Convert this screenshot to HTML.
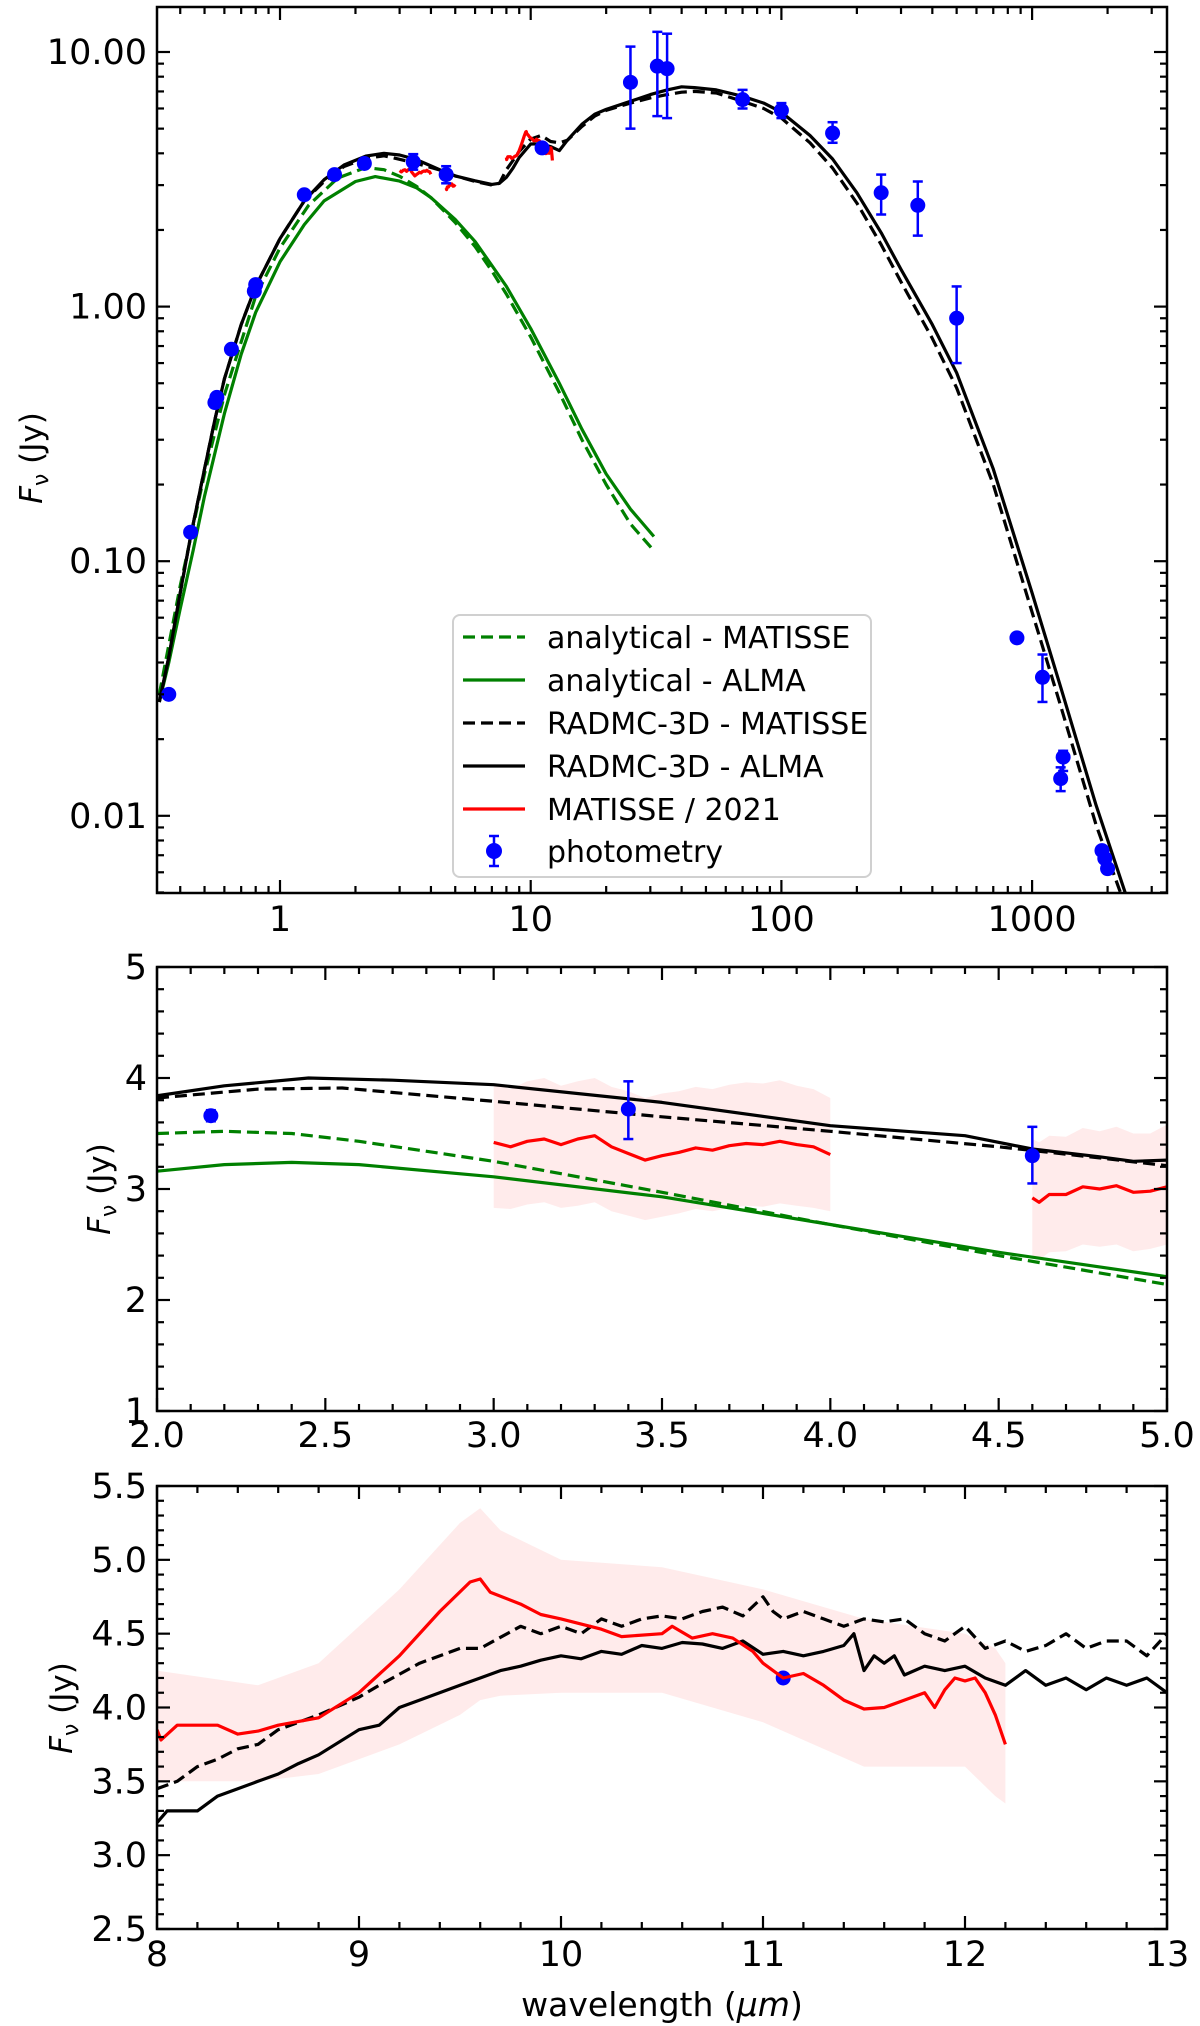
<!DOCTYPE html>
<html><head><meta charset="utf-8"><style>
body{margin:0;background:#fff}
svg{display:block;font-family:"DejaVu Sans","Liberation Sans",sans-serif}
</style></head><body>
<svg id="fig" width="1200" height="2026" viewBox="0 0 1200 2026" xmlns="http://www.w3.org/2000/svg">
<defs>
<clipPath id="c1"><rect x="157" y="7" width="1010" height="886"/></clipPath>
<clipPath id="c2"><rect x="157" y="967" width="1010" height="444"/></clipPath>
<clipPath id="c3"><rect x="157" y="1486" width="1010" height="443"/></clipPath>
</defs>
</svg>
<script>
// ---------- Panel 1 data (wavelength um, flux Jy) ----------
const p1RadAlmaX=[0.33,0.36,0.4,0.44,0.5,0.55,0.6,0.7,0.8,1.0,1.25,1.5,1.8,2.2,2.6,3.0,3.5,4,4.6,5,6,7,7.5,8,8.5,9,10,11,12,13,14,16,18,20,25,30,35,40,45,55,70,85,100,130,160,200,250,300,400,500,700,1000,1300,1800,2350,2800];
const p1RadAlmaY=[0.028,0.042,0.075,0.125,0.23,0.36,0.52,0.85,1.2,1.85,2.6,3.15,3.6,3.9,4.0,3.94,3.78,3.57,3.36,3.26,3.12,3.02,3.05,3.22,3.5,3.85,4.35,4.36,4.25,4.1,4.5,5.2,5.7,5.95,6.4,6.8,7.1,7.3,7.25,7.1,6.7,6.3,5.8,4.7,3.8,2.8,1.95,1.4,0.85,0.55,0.23,0.075,0.032,0.011,0.005,0.003];
const p1RadMatX=[0.33,0.36,0.4,0.44,0.5,0.55,0.6,0.7,0.8,1.0,1.25,1.5,1.8,2.2,2.6,3.0,3.5,4,4.6,5,6,7,7.5,8,8.5,9,10,11,12,13,14,16,18,20,25,30,35,40,45,55,70,85,100,130,160,200,250,300,400,500,700,1000,1300,1800,2250,2800];
const p1RadMatY=[0.028,0.042,0.075,0.125,0.23,0.36,0.52,0.85,1.2,1.85,2.6,3.1,3.55,3.82,3.91,3.79,3.65,3.52,3.38,3.26,3.1,3.0,3.05,3.45,3.75,4.07,4.55,4.7,4.45,4.4,4.5,5.1,5.6,5.9,6.3,6.6,6.8,6.95,7.0,6.9,6.4,6.0,5.5,4.4,3.5,2.55,1.75,1.25,0.75,0.48,0.2,0.063,0.027,0.0092,0.005,0.0025];
const p1AnaAlmaX=[0.33,0.36,0.4,0.45,0.5,0.6,0.7,0.8,1.0,1.25,1.5,2,2.4,3,3.5,4,5,6,7,8,10,13,16,20,25,31];
const p1AnaAlmaY=[0.028,0.04,0.065,0.11,0.18,0.38,0.65,0.95,1.5,2.1,2.6,3.1,3.24,3.11,2.93,2.68,2.2,1.8,1.45,1.2,0.82,0.5,0.33,0.22,0.16,0.125];
const p1AnaMatX=[0.33,0.4,0.5,0.6,0.8,1,1.3,1.7,2.2,2.6,3,3.5,4,5,6,7,8,10,13,16,20,25,31];
const p1AnaMatY=[0.03,0.08,0.22,0.45,1.1,1.7,2.5,3.2,3.52,3.45,3.25,2.97,2.68,2.14,1.72,1.38,1.12,0.76,0.46,0.3,0.2,0.14,0.11];
const photX=[0.36,0.44,0.55,0.56,0.64,0.79,0.8,1.25,1.65,2.17,3.4,4.6,11.1,25,32,35,70,100,160,250,350,500,870,1100,1300,1330,1900,1950,2000];
const photY=[0.030,0.13,0.42,0.44,0.68,1.15,1.22,2.75,3.3,3.65,3.7,3.3,4.2,7.6,8.8,8.6,6.5,5.9,4.8,2.8,2.5,0.9,0.05,0.035,0.014,0.017,0.0073,0.0068,0.0062];
const photLo=[0.030,0.13,0.42,0.44,0.68,1.15,1.22,2.75,3.3,3.55,3.45,3.05,4.2,5.0,5.6,5.5,6.0,5.5,4.4,2.3,1.9,0.6,0.05,0.028,0.0125,0.015,0.0073,0.0068,0.0062];
const photHi=[0.030,0.13,0.42,0.44,0.68,1.15,1.22,2.75,3.3,3.75,3.97,3.56,4.2,10.5,12.0,11.8,7.1,6.3,5.3,3.3,3.1,1.2,0.05,0.043,0.0155,0.018,0.0073,0.0068,0.0062];
const p1Ticks=["10.00","1.00","0.10","0.01"];
const p1TickVals=[10,1,0.1,0.01];
const p1XTicks=["1","10","100","1000"];
const p1XTickVals=[1,10,100,1000];
// ---------- Panel 2 data ----------
const p2RadAlmaX=[2.0,2.2,2.45,2.7,3.0,3.5,4.0,4.4,4.6,4.8,4.9,5.0];
const p2RadAlmaY=[3.84,3.93,4.0,3.98,3.94,3.78,3.57,3.48,3.36,3.29,3.25,3.26];
const p2RadMatX=[2.0,2.3,2.55,3.0,3.5,4.0,4.5,4.8,5.0];
const p2RadMatY=[3.82,3.9,3.91,3.79,3.65,3.52,3.38,3.28,3.21];
const p2AnaMatX=[2.0,2.2,2.4,2.6,3.0,3.5,4.0,4.5,5.0];
const p2AnaMatY=[3.5,3.52,3.5,3.43,3.25,2.97,2.68,2.4,2.14];
const p2AnaAlmaX=[2.0,2.2,2.4,2.6,3.0,3.5,4.0,4.5,5.0];
const p2AnaAlmaY=[3.16,3.22,3.24,3.22,3.11,2.93,2.68,2.43,2.21];
const p2RedAX=[3.0,3.05,3.1,3.15,3.2,3.25,3.3,3.35,3.4,3.45,3.5,3.55,3.6,3.65,3.7,3.75,3.8,3.85,3.9,3.95,4.0];
const p2RedAY=[3.42,3.38,3.43,3.45,3.4,3.45,3.48,3.38,3.32,3.26,3.3,3.33,3.37,3.35,3.39,3.41,3.4,3.43,3.4,3.38,3.31];
const p2RedAHi=[3.95,3.9,3.97,4.0,3.93,3.97,4.0,3.92,3.88,3.82,3.86,3.88,3.92,3.9,3.94,3.96,3.95,3.98,3.93,3.9,3.82];
const p2RedALo=[2.83,2.82,2.86,2.88,2.83,2.85,2.88,2.8,2.76,2.72,2.75,2.78,2.82,2.8,2.83,2.85,2.84,2.87,2.85,2.83,2.8];
const p2RedBX=[4.6,4.62,4.65,4.7,4.75,4.8,4.85,4.9,4.95,5.0];
const p2RedBY=[2.92,2.88,2.95,2.95,3.02,3.0,3.03,2.97,2.98,3.02];
const p2RedBHi=[3.45,3.42,3.48,3.47,3.55,3.52,3.56,3.5,3.5,3.58];
const p2RedBLo=[2.4,2.36,2.43,2.44,2.5,2.48,2.5,2.44,2.46,2.5];
const p2PhotX=[2.16,3.4,4.6];
const p2PhotY=[3.66,3.72,3.3];
const p2PhotLo=[3.61,3.45,3.05];
const p2PhotHi=[3.71,3.97,3.56];
const p2XTicks=["2.0","2.5","3.0","3.5","4.0","4.5","5.0"];
const p2YTicks=["1","2","3","4","5"];
// ---------- Panel 3 data ----------
const p3RedX=[8.0,8.02,8.1,8.3,8.4,8.5,8.6,8.8,9.0,9.2,9.4,9.55,9.6,9.65,9.8,9.9,10.0,10.2,10.3,10.5,10.55,10.65,10.75,10.85,10.95,11.0,11.1,11.2,11.3,11.4,11.5,11.6,11.7,11.8,11.85,11.9,11.95,12.0,12.05,12.1,12.15,12.2];
const p3RedY=[3.85,3.78,3.88,3.88,3.82,3.84,3.88,3.93,4.1,4.35,4.65,4.85,4.87,4.78,4.7,4.63,4.6,4.53,4.48,4.5,4.55,4.47,4.5,4.47,4.38,4.3,4.2,4.23,4.15,4.05,3.99,4.0,4.05,4.1,4.0,4.12,4.2,4.18,4.2,4.1,3.95,3.75];
const p3BandX=[8.0,8.5,8.8,9.2,9.5,9.6,9.7,10.0,10.5,11.0,11.5,12.0,12.15,12.2];
const p3BandHi=[4.25,4.15,4.3,4.8,5.25,5.35,5.2,5.0,4.95,4.8,4.6,4.5,4.4,4.3];
const p3BandLo=[3.5,3.5,3.55,3.75,3.95,4.05,4.08,4.1,4.1,3.9,3.6,3.6,3.4,3.35];
const p3RadAlmaX=[8.0,8.05,8.2,8.3,8.4,8.5,8.6,8.7,8.8,9.0,9.1,9.2,9.3,9.5,9.6,9.7,9.8,9.9,10.0,10.1,10.2,10.3,10.4,10.5,10.6,10.7,10.8,10.9,11.0,11.1,11.2,11.3,11.4,11.45,11.5,11.55,11.6,11.65,11.7,11.8,11.9,12.0,12.1,12.2,12.3,12.4,12.5,12.6,12.7,12.8,12.9,13.0];
const p3RadAlmaY=[3.22,3.3,3.3,3.4,3.45,3.5,3.55,3.62,3.68,3.85,3.88,4.0,4.05,4.15,4.2,4.25,4.28,4.32,4.35,4.33,4.38,4.36,4.42,4.4,4.44,4.43,4.4,4.45,4.36,4.38,4.35,4.38,4.42,4.5,4.25,4.35,4.3,4.35,4.22,4.28,4.25,4.28,4.2,4.15,4.25,4.15,4.2,4.12,4.2,4.15,4.2,4.1];
const p3RadMatX=[8.0,8.1,8.2,8.3,8.4,8.5,8.6,8.7,8.8,9.0,9.1,9.3,9.5,9.6,9.8,9.9,10.0,10.1,10.2,10.3,10.4,10.5,10.6,10.7,10.8,10.9,11.0,11.05,11.1,11.2,11.3,11.4,11.5,11.6,11.7,11.8,11.9,12.0,12.1,12.2,12.3,12.4,12.5,12.6,12.7,12.8,12.9,13.0];
const p3RadMatY=[3.45,3.5,3.6,3.65,3.72,3.75,3.85,3.9,3.95,4.07,4.15,4.3,4.4,4.4,4.55,4.5,4.55,4.5,4.6,4.55,4.6,4.62,4.6,4.65,4.68,4.62,4.75,4.65,4.6,4.65,4.6,4.55,4.6,4.58,4.6,4.5,4.45,4.55,4.4,4.45,4.38,4.42,4.5,4.4,4.45,4.45,4.35,4.5];
const p3PhotX=[11.1];
const p3PhotY=[4.2];
const p3XTicks=["8","9","10","11","12","13"];
const p3YTicks=["2.5","3.0","3.5","4.0","4.5","5.0","5.5"];

const NS="http://www.w3.org/2000/svg";
const svg=document.getElementById('fig');
function el(tag,attrs,parent){const e=document.createElementNS(NS,tag);for(const k in attrs)e.setAttribute(k,attrs[k]);(parent||svg).appendChild(e);return e;}
// axis functions
const x1=v=>280+250.7*Math.log10(v), y1=v=>306.6-254.6*Math.log10(v);
const x2=v=>157+(v-2)/3*1010, y2=v=>1411-(v-1)/4*444;
const x3=v=>157+(v-8)/5*1010, y3=v=>1929-(v-2.5)/3*443;

function line(xs,ys,fx,fy,color,dash,clip,name){
  const d=xs.map((x,i)=>(i?'L':'M')+fx(x).toFixed(1)+','+fy(ys[i]).toFixed(1)).join('');
  const p=el('path',{d:d,fill:'none',stroke:color,'stroke-width':3.2,'stroke-linejoin':'round','clip-path':'url(#'+clip+')'});
  if(dash)p.setAttribute('stroke-dasharray',dash);
  
  
}
function band(xs,lo,hi,fx,fy,clip,name){
  let d='M'+xs.map((x,i)=>fx(x).toFixed(1)+','+fy(hi[i]).toFixed(1)).join('L');
  for(let i=xs.length-1;i>=0;i--)d+='L'+fx(xs[i]).toFixed(1)+','+fy(lo[i]).toFixed(1);
  const p=el('path',{d:d+'Z',fill:'#ffe4e4','fill-opacity':0.75,stroke:'none','clip-path':'url(#'+clip+')'});
  
  
}
function points(xs,ys,lo,hi,fx,fy,clip,name){
  xs.forEach((x,i)=>{
    const g=el('g',{'clip-path':'url(#'+clip+')'});
    
    
    const cx=fx(x);
    if(lo&&hi&&Math.abs(fy(lo[i])-fy(hi[i]))>2){
      el('line',{x1:cx,x2:cx,y1:fy(lo[i]),y2:fy(hi[i]),stroke:'#0000ff','stroke-width':2.5},g);
      el('line',{x1:cx-5,x2:cx+5,y1:fy(lo[i]),y2:fy(lo[i]),stroke:'#0000ff','stroke-width':2.5},g);
      el('line',{x1:cx-5,x2:cx+5,y1:fy(hi[i]),y2:fy(hi[i]),stroke:'#0000ff','stroke-width':2.5},g);
    }
    el('circle',{cx:cx,cy:fy(ys[i]),r:7.5,fill:'#0000ff'},g);
  });
}
function text(x,y,s,anchor,size,name,extra){
  const t=el('text',Object.assign({x:x,y:y,'text-anchor':anchor,'font-size':size,fill:'#000'},extra||{}));
  t.textContent=s;
  
  
  return t;
}
function tick(x1_,y1_,x2_,y2_){el('line',{x1:x1_,y1:y1_,x2:x2_,y2:y2_,stroke:'#000','stroke-width':2.2});}
function frame(L,T,R,B,name){
  const r=el('rect',{x:L,y:T,width:R-L,height:B-T,fill:'none',stroke:'#000','stroke-width':2.5});
  
  
}
const L=157,R=1167;
// ---------------- Panel 1 ----------------
line(p1AnaMatX,p1AnaMatY,x1,y1,'#008000','12,6','c1','analytical-matisse-line');
line(p1AnaAlmaX,p1AnaAlmaY,x1,y1,'#008000',null,'c1','analytical-alma-line');
line(p1RadMatX,p1RadMatY,x1,y1,'#000','12,6','c1','radmc-matisse-line');
line(p1RadAlmaX,p1RadAlmaY,x1,y1,'#000',null,'c1','radmc-alma-line');
line(p2RedAX,p2RedAY,x1,y1,'#ff0000',null,'c1','matisse-2021-l-band');
line(p2RedBX,p2RedBY,x1,y1,'#ff0000',null,'c1','matisse-2021-m-band');
line(p3RedX,p3RedY,x1,y1,'#ff0000',null,'c1','matisse-2021-n-band');
points(photX,photY,photLo,photHi,x1,y1,'c1','photometry-point');
frame(L,7,R,893,'panel1-frame');
// log ticks
for(let e=-1;e<=3;e++)for(let m=1;m<10;m++){const v=m*Math.pow(10,e);const px=x1(v);if(px<L||px>R)continue;const len=m==1?13:7;tick(px,893,px,893-len);tick(px,7,px,7+len);}
for(let e=-3;e<=1;e++)for(let m=1;m<10;m++){const v=m*Math.pow(10,e);const py=y1(v);if(py<7||py>893)continue;const len=m==1?13:7;tick(L,py,L+len,py);tick(R,py,R-len,py);}
p1TickVals.forEach((v,i)=>text(L-10,y1(v)+12,p1Ticks[i],'end',35,'y-tick-label'));
p1XTickVals.forEach((v,i)=>text(x1(v),931,p1XTicks[i],'middle',35,'x-tick-label'));
text(0,0,'F','middle',31,'y-axis-title',{transform:'translate(42,458) rotate(-90)'}).innerHTML='<tspan font-style="italic">F</tspan><tspan font-size="22" dy="6">ν</tspan><tspan dy="-6"> (Jy)</tspan>';
// legend
const lg=el('g',{});


el('rect',{x:453,y:615,width:418,height:262,rx:7,fill:'#fff','fill-opacity':0.85,stroke:'#d0d0d0','stroke-width':2},lg);
const legItems=[['analytical - MATISSE','#008000','12,6'],['analytical - ALMA','#008000',null],['RADMC-3D - MATISSE','#000','12,6'],['RADMC-3D - ALMA','#000',null],['MATISSE / 2021','#ff0000',null]];
legItems.forEach((it,i)=>{const y=637+i*43;const ln=el('line',{x1:463,x2:525,y1:y,y2:y,stroke:it[1],'stroke-width':3.2},lg);if(it[2])ln.setAttribute('stroke-dasharray',it[2]);
  const t=el('text',{x:547,y:y+11,'font-size':30,fill:'#000'},lg);t.textContent=it[0];});
el('line',{x1:494,x2:494,y1:836,y2:866,stroke:'#0000ff','stroke-width':2.5},lg);
el('line',{x1:489,x2:499,y1:836,y2:836,stroke:'#0000ff','stroke-width':2.5},lg);
el('line',{x1:489,x2:499,y1:866,y2:866,stroke:'#0000ff','stroke-width':2.5},lg);
el('circle',{cx:494,cy:851,r:8,fill:'#0000ff'},lg);
const pt=el('text',{x:547,y:862,'font-size':30,fill:'#000'},lg);pt.textContent='photometry';
// ---------------- Panel 2 ----------------
band(p2RedAX,p2RedALo,p2RedAHi,x2,y2,'c2','matisse-error-band-l');
band(p2RedBX,p2RedBLo,p2RedBHi,x2,y2,'c2','matisse-error-band-m');
line(p2RadAlmaX,p2RadAlmaY,x2,y2,'#000',null,'c2','radmc-alma-line');
line(p2RadMatX,p2RadMatY,x2,y2,'#000','12,6','c2','radmc-matisse-line');
line(p2AnaMatX,p2AnaMatY,x2,y2,'#008000','12,6','c2','analytical-matisse-line');
line(p2AnaAlmaX,p2AnaAlmaY,x2,y2,'#008000',null,'c2','analytical-alma-line');
line(p2RedAX,p2RedAY,x2,y2,'#ff0000',null,'c2','matisse-2021-l-band');
line(p2RedBX,p2RedBY,x2,y2,'#ff0000',null,'c2','matisse-2021-m-band');
points(p2PhotX,p2PhotY,p2PhotLo,p2PhotHi,x2,y2,'c2','photometry-point');
frame(L,967,R,1411,'panel2-frame');
for(let k=0;k<=30;k++){const v=2+k*0.1;const px=x2(v);const len=k%5==0?13:7;tick(px,1411,px,1411-len);tick(px,967,px,967+len);}
for(let k=0;k<=20;k++){const v=1+k*0.2;const py=y2(v);const len=k%5==0?13:7;tick(L,py,L+len,py);tick(R,py,R-len,py);}
p2XTicks.forEach(s=>text(x2(parseFloat(s)),1447,s,'middle',35,'x-tick-label'));
p2YTicks.forEach(s=>text(L-10,y2(parseFloat(s))+12,s,'end',35,'y-tick-label'));
text(0,0,'F','middle',31,'y-axis-title',{transform:'translate(110,1189) rotate(-90)'}).innerHTML='<tspan font-style="italic">F</tspan><tspan font-size="22" dy="6">ν</tspan><tspan dy="-6"> (Jy)</tspan>';
// ---------------- Panel 3 ----------------
band(p3BandX,p3BandLo,p3BandHi,x3,y3,'c3','matisse-error-band-n');
line(p3RadMatX,p3RadMatY,x3,y3,'#000','12,6','c3','radmc-matisse-line');
line(p3RadAlmaX,p3RadAlmaY,x3,y3,'#000',null,'c3','radmc-alma-line');
points(p3PhotX,p3PhotY,null,null,x3,y3,'c3','photometry-point');
line(p3RedX,p3RedY,x3,y3,'#ff0000',null,'c3','matisse-2021-n-band');
frame(L,1486,R,1929,'panel3-frame');
for(let k=0;k<=25;k++){const v=8+k*0.2;const px=x3(v);const len=k%5==0?13:7;tick(px,1929,px,1929-len);tick(px,1486,px,1486+len);}
for(let k=0;k<=30;k++){const v=2.5+k*0.1;const py=y3(v);const len=k%5==0?13:7;tick(L,py,L+len,py);tick(R,py,R-len,py);}
p3XTicks.forEach(s=>text(x3(parseFloat(s)),1966,s,'middle',35,'x-tick-label'));
p3YTicks.forEach(s=>text(L-10,y3(parseFloat(s))+12,s,'end',35,'y-tick-label'));
text(0,0,'F','middle',31,'y-axis-title',{transform:'translate(72,1708) rotate(-90)'}).innerHTML='<tspan font-style="italic">F</tspan><tspan font-size="22" dy="6">ν</tspan><tspan dy="-6"> (Jy)</tspan>';
text(662,2016,'','middle',33,'x-axis-title').innerHTML='wavelength (<tspan font-style="italic">μm</tspan>)';
</script>
</body></html>
